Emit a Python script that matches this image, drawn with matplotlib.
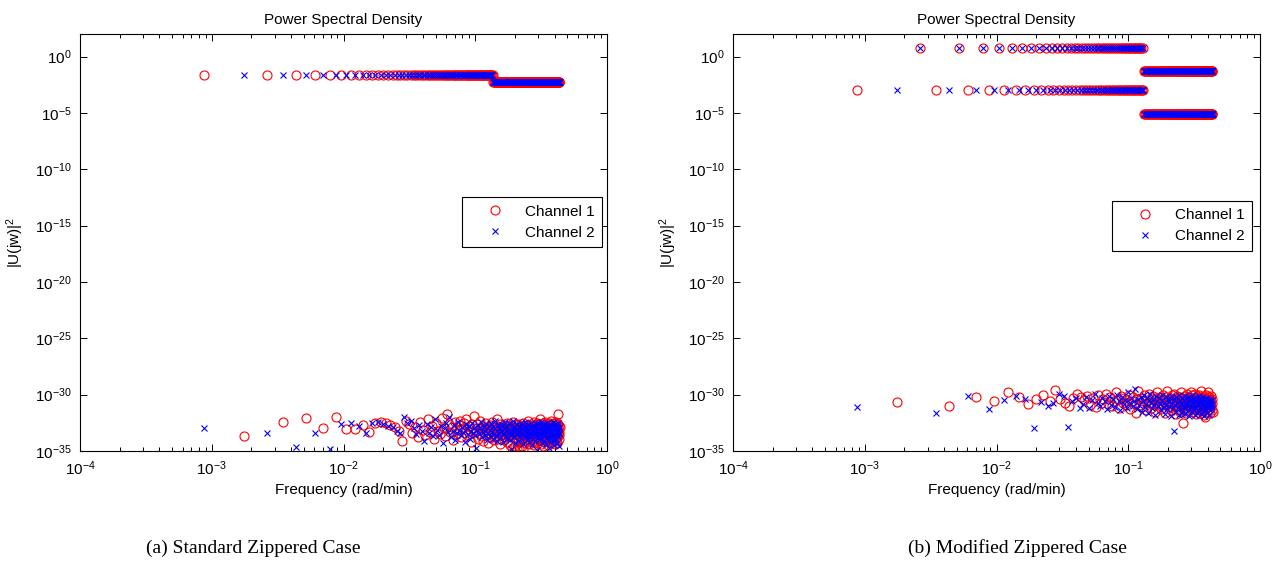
import numpy as np
import matplotlib
matplotlib.use('Agg')
import matplotlib.pyplot as plt
from matplotlib.ticker import LogLocator, NullLocator, FixedLocator

plt.rcParams['font.family'] = ['Liberation Sans', 'DejaVu Sans']
plt.rcParams['mathtext.fontset'] = 'custom'
plt.rcParams['mathtext.rm'] = 'Liberation Sans'
plt.rcParams['mathtext.it'] = 'Liberation Sans:italic'
plt.rcParams['mathtext.bf'] = 'Liberation Sans:bold'

# ---------------- data ----------------
base_freq = 2 * np.pi / 7200.0          # rad/min, fundamental of the periodic input
harmonics = np.arange(1, 501)          # harmonic numbers shown

# (a) standard zippered case: ch1 on odd harmonics, ch2 on even harmonics
step_a = 156                            # first harmonic of the lower-power band
level_a_low_band = -1.67                # log10 power below step
level_a_high_band = -2.27               # log10 power above step

# log10 of residual power at non-excited harmonics, (a)
noise_a_ch1 = [  # even harmonics 2..500
    -33.66, -32.41, -32.05, -33.0, -31.99, -33.07, -33.07, -32.65, -33.28, -32.48,
    -32.45, -32.5, -32.7, -32.9, -33.2, -34.1, -32.3,
    -32.6, -33.4, -32.9, -33.8, -32.4, -33.1, -33.6, -32.2, -33.3, -32.8,
    -33.9, -32.5, -33.2, -33.5, -32.1, -33.0, -33.7, -31.7, -32.6, -33.3,
    -32.9, -34.0, -32.4, -33.1, -33.5, -32.7, -32.3, -33.8, -33.0, -32.5,
    -33.4, -32.2, -33.6, -32.8, -33.2, -34.2, -32.6, -33.0, -31.9, -33.3,
    -33.2, -32.6, -33.9, -33.4, -32.3, -33.7, -33.0, -32.8, -34.1, -33.3,
    -32.5, -33.6, -33.1, -32.9, -34.3, -33.4, -32.7, -33.8, -33.2, -32.4,
    -33.5, -33.0, -34.0, -32.8, -33.3, -33.7, -32.2, -33.5, -33.9, -33.1,
    -32.6, -34.4, -33.2, -33.6, -32.9, -33.4, -34.0, -32.7, -33.3, -33.8,
    -33.0, -32.5, -34.2, -33.5, -33.1, -32.8, -33.7, -34.5, -33.2, -32.9,
    -33.6, -34.7, -33.0, -32.4, -33.8, -33.3, -34.6, -32.7, -33.4, -33.9,
    -34.8, -33.1, -32.6, -33.5, -34.2, -33.0, -34.7, -33.6, -32.8, -33.3,
    -34.0, -34.6, -33.2, -32.5, -33.7, -34.8, -33.4, -32.9, -33.8, -34.3,
    -33.1, -32.7, -33.5, -34.1, -33.0, -32.3, -33.9, -33.6, -34.4, -33.2,
    -32.8, -33.4, -34.0, -33.1, -32.6, -33.7, -33.3, -34.2, -32.9, -33.5,
    -33.8, -32.4, -33.2, -34.5, -33.0, -33.6, -32.7, -33.9, -33.3, -34.1,
    -32.5, -33.4, -33.7, -32.9, -34.3, -33.1, -32.6, -33.8, -33.5, -34.0,
    -33.0, -32.2, -33.6, -34.4, -33.3, -32.8, -33.9, -33.2, -32.5, -34.6,
    -33.4, -33.0, -32.7, -33.8, -34.2, -33.1, -32.4, -33.5, -33.9, -32.9,
    -33.6, -34.0, -33.2, -32.6, -33.7, -34.5, -33.0, -32.8, -33.4, -34.1,
    -33.3, -32.5, -33.8, -33.1, -34.3, -32.7, -33.6, -33.0, -32.3, -33.9,
    -34.2, -33.4, -32.9, -33.5, -32.6, -33.8, -34.0, -33.2, -32.8, -33.6,
    -33.0, -34.4, -32.5, -33.3, -33.7, -32.9, -34.1, -33.4, -32.4, -33.1,
    -33.8, -33.0, -32.7, -34.3, -33.5, -31.7, -33.2, -32.6, -33.9, -33.3,
    -32.8, -33.6, -32.9,
]
noise_a_ch2 = [  # odd harmonics 1..499
    -32.95, -33.36, -34.61, -33.36, -34.85, -32.6, -32.48, -32.77, -33.4, -32.48,
    -32.4, -32.6, -32.8, -32.9, -33.2, -33.42, -32.0, -32.5,
    -32.3, -33.0, -33.5, -32.7, -33.2, -34.1, -32.6, -33.4, -32.9, -33.7,
    -32.2, -33.1, -33.6, -32.8, -34.3, -33.0, -32.5, -33.3, -32.0, -33.8,
    -33.2, -32.7, -34.0, -33.4, -32.4, -33.1, -33.6, -32.9, -33.3, -34.2,
    -32.6, -33.0, -33.5, -32.8, -33.9, -33.2, -32.5, -33.4, -33.0, -33.6,
    -34.7, -33.1, -32.7, -33.5, -33.0, -32.4, -33.8, -33.3, -32.9, -33.6,
    -33.2, -32.6, -34.0, -33.4, -32.8, -33.1, -33.7, -32.5, -33.3, -33.9,
    -32.9, -33.5, -33.0, -32.3, -33.6, -34.1, -33.2, -32.7, -33.4, -33.0,
    -33.8, -32.6, -33.3, -33.1, -34.2, -32.8, -33.5, -33.0, -32.4, -33.7,
    -33.2, -33.9, -32.9, -33.4, -32.5, -33.1, -33.6, -34.0, -33.3, -34.8,
    -32.7, -33.5, -33.0, -32.3, -33.8, -33.2, -34.3, -32.9, -33.4, -33.1,
    -33.6, -32.6, -33.3, -34.1, -33.0, -32.8, -33.7, -33.2, -32.5, -33.9,
    -33.4, -33.0, -32.7, -33.5, -34.4, -33.1, -32.9, -33.6, -33.3, -32.4,
    -33.8, -33.2, -34.0, -32.8, -33.5, -33.0, -32.6, -33.7, -34.2, -33.1,
    -32.9, -33.4, -33.0, -33.8, -32.5, -33.3, -34.5, -33.6, -32.7, -33.2,
    -33.9, -33.0, -32.8, -33.5, -34.1, -33.2, -32.6, -33.4, -33.7, -33.0,
    -32.9, -34.9, -33.3, -32.5, -33.8, -33.1, -34.0, -32.7, -33.6, -33.2,
    -33.0, -33.5, -32.4, -33.9, -33.3, -32.8, -34.3, -33.1, -33.6, -32.9,
    -33.4, -33.0, -34.1, -32.6, -33.7, -33.2, -32.9, -33.5, -34.4, -33.0,
    -32.7, -33.3, -33.8, -33.1, -32.5, -34.0, -33.4, -32.9, -33.6, -33.2,
    -33.0, -34.7, -33.5, -32.6, -33.2, -33.9, -32.8, -33.4, -34.2, -33.1,
    -32.9, -33.6, -33.0, -34.0, -32.4, -33.3, -33.7, -33.1, -34.5, -32.8,
    -33.5, -33.2, -32.7, -33.8, -34.1, -33.0, -32.6, -33.4, -33.9, -33.3,
    -32.8, -33.6, -34.3, -33.1, -32.5, -33.7, -33.2, -34.6, -33.0, -32.9,
    -33.5, -33.4,
]

# (b) modified zippered case: harmonics 3m on both channels,
# 3m+1 on ch1 only, 3m+2 on ch2 only
step_b = 150
level_b_shared_low_band = 0.74
level_b_single_low_band = -3.0
level_b_shared_high_band = -1.25
level_b_single_high_band = -5.06

noise_b_ch1 = [  # harmonics 2, 5, 8, ..., 500
    -30.68, -30.98, -30.24, -30.57, -29.8, -30.2, -30.81, -30.39, -30.0, -30.6,
    -29.55, -30.4, -30.7, -31.05, -30.3, -29.92, -30.2,
    -30.5, -30.1, -30.9, -30.3, -31.1, -30.0, -30.7, -30.4, -29.9, -30.8,
    -30.2, -31.0, -30.6, -29.8, -30.4, -31.2, -30.1, -30.7, -30.3, -30.9,
    -30.5, -30.0, -31.3, -30.6, -30.2, -30.8, -31.6, -30.4, -29.7, -30.9,
    -30.3, -31.1, -30.6, -30.0, -31.4, -30.5, -30.8, -29.9, -30.7, -31.2,
    -30.4, -30.1, -30.9, -31.5, -30.3, -30.6, -29.8, -31.0, -30.5, -30.2,
    -31.3, -30.7, -30.0, -30.9, -30.4, -31.6, -30.2, -30.8, -29.7, -30.6,
    -31.1, -30.3, -30.8, -31.4, -30.0, -30.6, -31.2, -29.9, -30.5, -31.0,
    -30.4, -31.7, -30.1, -30.7, -31.3, -30.2, -30.9, -31.5, -29.8, -30.6,
    -31.0, -30.4, -32.5, -30.8, -31.2, -30.1, -30.6, -31.6, -30.3, -29.9,
    -30.7, -31.4, -30.2, -30.9, -31.1, -30.5, -29.8, -31.3, -30.6, -30.0,
    -31.5, -30.8, -30.3, -31.0, -30.6, -29.9, -31.2, -30.4, -31.7, -30.1,
    -30.9, -31.3, -30.5, -30.0, -31.1, -30.7, -31.6, -30.2, -30.8, -29.7,
    -31.4, -30.6, -30.3, -31.0, -30.9, -31.8, -30.1, -30.5, -32.0, -30.7,
    -31.2, -30.4, -30.0, -31.5, -30.8, -30.3, -31.1, -29.8, -30.6, -31.3,
    -30.2, -30.9, -31.6, -30.5, -30.1, -31.0, -30.7, -31.4, -30.4, -31.5,
]
noise_b_ch2 = [  # harmonics 1, 4, 7, ..., 499
    -31.10, -31.64, -30.09, -31.25, -30.5, -30.15, -30.35, -33.0, -30.63, -31.05,
    -30.7, -29.92, -30.1, -32.83, -30.6, -30.3, -31.2,
    -30.8, -30.2, -31.2, -30.5, -29.9, -30.7, -31.0, -30.3, -30.6, -31.3,
    -30.1, -30.9, -30.4, -31.1, -30.0, -30.6, -31.4, -30.2, -30.8, -30.5,
    -31.2, -29.8, -30.7, -30.3, -31.0, -30.6, -29.5, -31.3, -30.4, -30.9,
    -30.2, -31.5, -30.6, -30.0, -31.1, -30.8, -30.3, -31.6, -30.5, -29.9,
    -30.7, -31.2, -30.4, -30.9, -31.8, -30.1, -30.6, -31.0, -30.3, -30.8,
    -31.4, -30.5, -30.0, -31.1, -30.7, -31.7, -30.2, -30.9, -31.3, -30.4,
    -30.6, -31.0, -30.3, -31.9, -30.8, -30.1, -31.2, -33.2, -30.5, -30.9,
    -31.5, -30.2, -30.7, -31.1, -30.4, -31.8, -30.0, -30.6, -31.3, -30.8,
    -30.3, -31.6, -30.9, -30.5, -31.2, -30.1, -31.7, -30.7, -30.4, -31.0,
    -30.8, -30.2, -31.4, -30.6, -31.9, -30.3, -30.9, -31.1, -30.5, -31.5,
    -30.0, -30.7, -31.3, -30.4, -31.0, -31.8, -30.6, -30.2, -31.2, -30.8,
    -31.6, -30.5, -30.9, -31.4, -30.1, -30.7, -31.1, -30.3, -31.7, -30.6,
    -30.4, -31.2, -30.8, -31.5, -30.2, -31.0, -30.6, -31.9, -30.5, -30.9,
    -31.3, -30.7, -30.3, -31.1, -31.6, -30.4, -30.8, -31.2, -30.5, -31.8,
    -30.6, -31.0, -30.4, -31.4, -30.9, -30.7, -31.3, -30.5, -31.1, -30.8,
]

xlim = (1e-4, 1e0)
ylim = (1e-35, 1e2)
ytick_exponents = [-35, -30, -25, -20, -15, -10, -5, 0]
legend_labels = ['Channel 1', 'Channel 2']
captions = ['(a) Standard Zippered Case', '(b) Modified Zippered Case']


# ---------------- assemble series ----------------
def assemble_a():
    k = harmonics
    lvl = np.where(k < step_a, level_a_low_band, level_a_high_band)
    ch1 = np.empty(k.size)
    ch2 = np.empty(k.size)
    odd = (k % 2 == 1)
    ch1[odd] = lvl[odd]
    ch1[~odd] = noise_a_ch1
    ch2[~odd] = lvl[~odd]
    ch2[odd] = noise_a_ch2
    return 10.0 ** ch1, 10.0 ** ch2


def assemble_b():
    k = harmonics
    shared = np.where(k < step_b, level_b_shared_low_band, level_b_shared_high_band)
    single = np.where(k < step_b, level_b_single_low_band, level_b_single_high_band)
    r = k % 3
    ch1 = np.empty(k.size)
    ch2 = np.empty(k.size)
    ch1[r == 0] = shared[r == 0]
    ch2[r == 0] = shared[r == 0]
    ch1[r == 1] = single[r == 1]
    ch2[r == 2] = single[r == 2]
    ch1[r == 2] = noise_b_ch1
    ch2[r == 1] = noise_b_ch2
    return 10.0 ** ch1, 10.0 ** ch2


freqs = harmonics * base_freq
series = [assemble_a(), assemble_b()]

# ---------------- figure ----------------
fig = plt.figure(figsize=(12.79, 5.64), dpi=100)
W, H = 1279.0, 564.0
axes_px = [(80, 34, 527, 417), (733, 34, 527, 417)]
legend_anchor = [(0.991, 0.609), (0.985, 0.600)]
caption_x = [253, 1017]

for i, (px, py, pw, ph) in enumerate(axes_px):
    ax = fig.add_axes([px / W, 1 - (py + ph) / H, pw / W, ph / H])
    p1, p2 = series[i]
    ax.plot(freqs, p1, linestyle='none', marker='o', markersize=6.5,
            markerfacecolor='none', markeredgecolor='#ff0000',
            markeredgewidth=0.8, label=legend_labels[0])
    ax.plot(freqs, p2, linestyle='none', marker='x', markersize=5,
            markeredgecolor='#0000ff', markeredgewidth=0.8,
            label=legend_labels[1])
    ax.set_xscale('log')
    ax.set_yscale('log')
    ax.set_xlim(*xlim)
    ax.set_ylim(*ylim)
    ax.yaxis.set_major_locator(FixedLocator([10.0 ** e for e in ytick_exponents]))
    ax.yaxis.set_minor_locator(NullLocator())
    ax.xaxis.set_major_locator(LogLocator(base=10, numticks=10))
    ax.xaxis.set_minor_locator(LogLocator(base=10, subs=np.arange(2, 10), numticks=10))
    ax.tick_params(which='both', direction='in', top=True, right=True,
                   labelsize=11, width=0.7, colors='black')
    ax.tick_params(which='major', length=5, pad=6)
    ax.tick_params(which='minor', length=2.8)
    for s in ax.spines.values():
        s.set_linewidth(0.8)
    ax.set_title('Power Spectral Density', fontsize=11, pad=7)
    ax.set_xlabel('Frequency (rad/min)', fontsize=11, labelpad=4)
    ax.set_ylabel('|U(jw)|$^2$', fontsize=11)
    ax.yaxis.set_label_coords(-0.103, 0.5)
    leg = ax.legend(loc='upper right', bbox_to_anchor=legend_anchor[i],
                    borderaxespad=0, fontsize=11, numpoints=1,
                    fancybox=False, edgecolor='black', framealpha=1,
                    borderpad=0.5, handlelength=3.3, handletextpad=0.3,
                    labelspacing=0.45)
    leg.get_frame().set_linewidth(0.8)
    fig.text(caption_x[i] / W, 1 - 548 / H, captions[i], ha='center', va='center',
             family=['Liberation Serif', 'DejaVu Serif'], fontsize=14)

fig.savefig('out.png', dpi=100)
